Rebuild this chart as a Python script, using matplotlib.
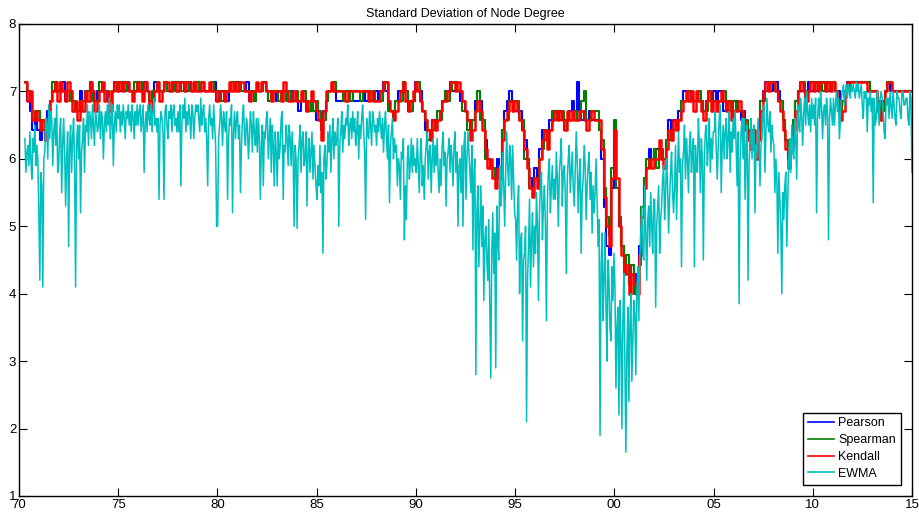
import numpy as np
import pandas as pd
import matplotlib
matplotlib.use('Agg')
import matplotlib.pyplot as plt
import matplotlib.dates as mdates

plt.rcParams['font.family'] = ['Liberation Sans', 'DejaVu Sans']

# correlation based series are quantised in steps of 1/7, stored here in sevenths
# (50 -> 7.14, 49 -> 7.00, 48 -> 6.86 ...), one row per year
pearson_7ths = [
    50, 48, 47, 45, 46, 45,               # 1970
    44, 45, 44, 47, 48, 49, 50, 49,
    49, 50, 48, 49, 49, 48, 47, 47,
    49, 48, 49, 49, 50, 49, 48, 49,
    49, 49, 49, 48, 48, 49, 50, 49,
    49, 50, 49, 50, 49, 49, 49, 50,       # 1975
    49, 49, 50, 49, 48, 48, 50, 49,
    49, 49, 50, 49, 49, 50, 49, 49,
    49, 50, 49, 49, 50, 49, 50, 50,
    49, 49, 49, 49, 49, 49, 50, 48,
    49, 49, 49, 48, 49, 49, 49, 50,       # 1980
    49, 49, 49, 50, 48, 49, 48, 49,
    49, 49, 50, 49, 48, 49, 49, 48,
    49, 48, 49, 49, 48, 49, 48, 48,
    47, 48, 48, 47, 47, 48, 48, 46,
    46, 45, 47, 48, 49, 49, 49, 48,       # 1985
    48, 48, 48, 48, 48, 49, 48, 48,
    48, 48, 49, 48, 48, 48, 48, 49,
    48, 49, 50, 49, 48, 47, 47, 48,
    49, 49, 50, 49, 47, 48, 48, 50,
    49, 49, 47, 45, 44, 45, 46, 46,       # 1990
    47, 47, 48, 49, 49, 50, 49, 49,
    49, 48, 48, 47, 46, 45, 46, 48,
    48, 48, 46, 44, 42, 41, 41, 40,
    42, 41, 45, 47, 48, 49, 48, 47,
    47, 47, 45, 44, 42, 40, 39, 41,       # 1995
    40, 43, 45, 44, 44, 46, 46, 47,
    47, 47, 46, 46, 46, 47, 48, 47,
    50, 47, 46, 47, 46, 47, 46, 46,
    46, 45, 42, 37, 33, 32, 39, 44,
    39, 35, 33, 31, 30, 29, 31, 30,       # 2000
    29, 33, 37, 40, 41, 43, 42, 43,
    43, 43, 42, 42, 44, 46, 45, 46,
    46, 47, 48, 49, 49, 49, 48, 48,
    48, 48, 48, 47, 48, 48, 48, 49,
    48, 49, 49, 47, 48, 47, 47, 48,       # 2005
    48, 47, 46, 47, 45, 45, 44, 44,
    43, 45, 48, 49, 50, 50, 49, 50,
    50, 49, 48, 46, 44, 42, 44, 46,
    48, 49, 49, 49, 49, 50, 49, 49,
    49, 50, 49, 50, 49, 49, 49, 50,       # 2010
    49, 49, 47, 48, 49, 50, 50, 50,
    50, 50, 50, 50, 50, 50, 49, 49,
    49, 48, 47, 48, 49, 50, 49, 49,
    49, 49, 49, 49, 49, 49, 49, 49,
]

spearman_7ths = [
    50, 49, 48, 46, 47, 47,               # 1970
    46, 46, 45, 46, 48, 50, 49, 49,
    50, 49, 49, 49, 48, 48, 47, 47,
    48, 48, 49, 49, 50, 48, 48, 48,
    50, 49, 49, 49, 48, 49, 49, 50,
    50, 49, 50, 49, 49, 49, 50, 49,       # 1975
    50, 49, 49, 49, 48, 49, 49, 50,
    49, 49, 50, 49, 49, 50, 49, 50,
    50, 49, 49, 50, 49, 49, 50, 50,
    49, 50, 49, 49, 49, 50, 49, 49,
    49, 48, 49, 49, 49, 50, 49, 49,       # 1980
    50, 49, 49, 49, 49, 49, 48, 49,
    49, 49, 50, 49, 48, 49, 49, 49,
    48, 49, 49, 48, 49, 48, 48, 49,
    48, 48, 49, 48, 47, 48, 47, 48,
    47, 45, 46, 48, 49, 49, 50, 49,       # 1985
    49, 49, 48, 49, 49, 48, 49, 49,
    49, 48, 49, 49, 49, 48, 49, 48,
    48, 48, 49, 50, 47, 47, 46, 48,
    48, 48, 50, 49, 48, 47, 48, 49,
    50, 48, 47, 46, 44, 45, 45, 46,       # 1990
    47, 46, 48, 49, 48, 49, 50, 50,
    49, 49, 47, 47, 45, 45, 46, 47,
    49, 46, 46, 42, 42, 41, 41, 40,
    40, 41, 45, 46, 46, 48, 48, 48,
    48, 46, 46, 42, 42, 39, 39, 40,       # 1995
    40, 42, 43, 45, 44, 45, 47, 46,
    47, 46, 47, 45, 46, 46, 46, 47,
    46, 46, 48, 49, 46, 46, 47, 47,
    47, 45, 44, 39, 36, 34, 41, 46,
    39, 36, 33, 30, 32, 29, 31, 28,       # 2000
    29, 31, 37, 40, 42, 41, 42, 43,
    41, 43, 43, 42, 44, 44, 45, 45,
    46, 46, 48, 48, 48, 49, 49, 48,
    48, 49, 48, 47, 47, 49, 48, 48,
    48, 48, 48, 49, 47, 48, 47, 48,       # 2005
    47, 47, 47, 46, 46, 44, 44, 45,
    43, 45, 48, 48, 49, 50, 50, 50,
    49, 48, 48, 46, 44, 42, 43, 46,
    48, 49, 50, 50, 48, 49, 50, 50,
    50, 49, 50, 49, 50, 50, 49, 50,       # 2010
    49, 48, 47, 48, 49, 49, 50, 50,
    50, 50, 50, 50, 50, 50, 49, 49,
    49, 48, 47, 47, 49, 50, 50, 49,
    49, 49, 49, 49, 49, 49, 49, 49,
]

kendall_7ths = [
    50, 48, 49, 46, 47, 46,               # 1970
    45, 46, 44, 46, 48, 49, 50, 48,
    50, 49, 48, 50, 49, 47, 48, 46,
    48, 47, 49, 48, 50, 49, 47, 48,
    49, 50, 48, 49, 47, 49, 50, 49,
    50, 49, 50, 50, 49, 48, 49, 50,       # 1975
    49, 48, 50, 49, 47, 48, 49, 50,
    48, 49, 50, 50, 49, 50, 50, 49,
    50, 50, 49, 50, 50, 49, 50, 49,
    49, 50, 49, 49, 50, 49, 49, 48,
    49, 49, 48, 49, 50, 49, 50, 49,       # 1980
    50, 50, 49, 49, 48, 49, 49, 50,
    49, 50, 50, 49, 49, 48, 49, 49,
    49, 48, 50, 49, 48, 48, 49, 48,
    48, 49, 48, 47, 48, 49, 48, 47,
    46, 44, 47, 49, 49, 50, 49, 49,       # 1985
    49, 49, 49, 48, 49, 49, 49, 49,
    49, 49, 49, 49, 48, 49, 48, 48,
    48, 49, 50, 50, 48, 47, 46, 47,
    48, 49, 50, 48, 47, 48, 49, 50,
    49, 48, 47, 46, 45, 44, 46, 45,       # 1990
    46, 47, 48, 48, 49, 50, 50, 49,
    50, 49, 48, 47, 46, 44, 45, 47,
    48, 47, 45, 43, 41, 42, 40, 39,
    41, 40, 44, 46, 47, 48, 47, 48,
    47, 46, 45, 43, 41, 39, 38, 40,       # 1995
    39, 42, 44, 45, 43, 45, 46, 47,
    46, 47, 46, 45, 47, 46, 47, 46,
    46, 47, 47, 46, 45, 46, 47, 46,
    46, 46, 43, 38, 35, 33, 40, 45,
    40, 35, 32, 30, 31, 28, 30, 29,       # 2000
    28, 32, 36, 39, 41, 42, 41, 42,
    42, 44, 42, 41, 43, 45, 44, 46,
    45, 46, 47, 48, 49, 48, 49, 47,
    49, 48, 47, 46, 48, 49, 47, 48,
    47, 48, 49, 48, 47, 48, 46, 47,       # 2005
    47, 48, 47, 46, 45, 44, 43, 45,
    42, 44, 47, 49, 50, 49, 50, 50,
    49, 48, 47, 45, 43, 41, 43, 45,
    47, 49, 50, 49, 48, 49, 50, 49,
    50, 49, 50, 50, 49, 50, 49, 50,       # 2010
    49, 48, 46, 47, 49, 50, 50, 50,
    50, 50, 50, 50, 50, 49, 49, 49,
    49, 47, 46, 48, 49, 50, 50, 49,
    49, 49, 49, 49, 49, 49, 49, 49,
]

# EWMA estimate, 20 readings per year (first row starts in spring 1970)
ewma = [
    6.3, 5.8, 6.1, 6.2, 5.9, 6.4, 6.0, 5.7, 6.3, 6.1, 6.5, 5.9, 6.2, 6.0,
    5.2, 4.2, 5.8, 5.6, 4.1, 6.0, 6.1, 6.6, 6.5, 6.0, 6.8, 6.3, 6.7, 6.6, 5.9, 6.4, 6.6, 6.2, 6.8, 5.8,
    5.9, 6.4, 6.6, 5.5, 6.2, 6.6, 6.1, 5.3, 6.0, 6.4, 4.7, 6.2, 6.5, 5.8, 6.3, 6.6, 5.9, 4.1, 6.2, 6.5,
    6.0, 6.5, 5.2, 6.1, 6.3, 6.6, 5.8, 6.5, 6.4, 6.8, 6.2, 6.7, 6.6, 6.3, 6.8, 6.5, 6.2, 6.7, 6.6, 6.4,
    6.5, 6.8, 6.3, 6.7, 6.6, 6.0, 6.5, 6.7, 6.4, 6.8, 6.5, 6.9, 6.3, 6.6, 6.8, 5.9, 6.5, 6.7, 6.4, 6.8,
    6.6, 6.8, 6.4, 6.7, 6.5, 6.8, 6.6, 6.3, 6.7, 6.6, 6.8, 6.5, 6.7, 6.4, 6.8, 6.6, 6.3, 6.7, 6.5, 6.8,  # 1975
    6.5, 6.7, 6.8, 6.4, 6.6, 6.8, 5.8, 6.5, 6.7, 6.4, 6.8, 6.6, 6.5, 6.8, 6.4, 6.7, 6.9, 6.5, 6.6, 6.4,
    6.6, 5.4, 6.5, 6.7, 6.6, 6.4, 5.4, 6.7, 6.8, 6.5, 6.3, 6.7, 6.6, 6.8, 6.4, 6.7, 6.8, 6.5, 6.6, 6.4,
    6.7, 6.4, 6.8, 5.6, 6.5, 6.8, 6.6, 6.9, 6.4, 6.7, 6.5, 6.8, 6.6, 6.3, 6.8, 6.7, 6.3, 6.6, 6.8, 6.7,
    6.8, 6.6, 6.4, 6.9, 6.5, 6.7, 6.8, 6.4, 6.6, 6.3, 5.6, 6.6, 6.8, 6.5, 6.6, 6.3, 6.8, 6.5, 6.2, 5.0,
    5.0, 6.3, 6.5, 6.8, 6.6, 6.2, 6.7, 6.5, 6.4, 6.7, 5.4, 6.3, 6.6, 6.5, 6.8, 5.2, 6.4, 6.7, 6.3, 6.6,  # 1980
    6.7, 6.3, 6.5, 5.5, 6.2, 6.6, 6.8, 6.4, 6.2, 6.6, 6.5, 6.0, 6.3, 6.7, 6.5, 6.1, 6.7, 6.4, 6.2, 6.6,
    6.1, 6.6, 6.3, 5.4, 6.2, 6.5, 5.6, 6.4, 6.3, 6.6, 6.7, 6.0, 6.3, 6.6, 5.8, 6.5, 6.2, 5.6, 6.4, 6.1,
    5.6, 6.4, 6.0, 6.2, 6.6, 6.7, 5.4, 6.2, 6.1, 6.5, 6.3, 5.9, 6.5, 6.3, 5.9, 6.4, 6.1, 5.0, 6.2, 6.0,
    4.97, 6.0, 6.2, 6.5, 5.8, 6.3, 6.4, 5.9, 6.0, 6.4, 5.3, 6.1, 6.3, 5.8, 6.1, 6.4, 5.7, 6.2, 5.9, 5.6,
    5.4, 5.9, 5.6, 6.2, 5.5, 5.8, 4.6, 6.0, 6.2, 5.7, 5.9, 6.4, 6.1, 6.5, 5.8, 6.3, 6.6, 6.0, 6.4, 6.2,  # 1985
    6.3, 6.6, 5.0, 6.2, 6.4, 6.7, 6.1, 6.5, 6.3, 6.6, 6.5, 6.8, 6.2, 6.5, 6.6, 6.3, 6.7, 6.4, 6.6, 6.2,
    6.4, 6.7, 6.0, 6.5, 6.3, 6.6, 6.8, 6.4, 6.1, 5.1, 6.6, 6.4, 6.3, 6.7, 6.5, 6.2, 6.7, 6.6, 6.4, 6.5,
    6.2, 6.6, 6.4, 6.7, 6.5, 6.3, 6.6, 6.1, 6.5, 6.7, 6.3, 6.0, 6.5, 5.35, 6.2, 6.4, 6.6, 6.0, 6.3, 6.1,
    6.2, 5.6, 6.0, 5.9, 5.4, 6.1, 6.0, 6.3, 4.8, 5.6, 5.1, 6.0, 6.2, 5.7, 5.9, 6.3, 5.8, 6.2, 5.9, 6.0,
    5.8, 6.3, 5.9, 5.5, 6.1, 6.3, 5.6, 5.9, 5.4, 6.0, 6.2, 6.4, 5.7, 6.1, 6.2, 5.5, 6.0, 6.3, 5.8, 6.2,  # 1990
    5.9, 6.3, 5.8, 5.5, 6.0, 5.6, 6.2, 6.4, 5.9, 6.1, 5.3, 6.0, 6.1, 6.3, 5.8, 6.2, 6.0, 5.6, 6.2, 6.4,
    5.8, 6.1, 5.0, 5.9, 6.0, 5.5, 6.2, 5.0, 6.2, 6.4, 5.4, 6.0, 6.4, 6.1, 5.8, 5.5, 6.2, 4.65, 5.8, 6.0,
    2.8, 5.2, 5.6, 4.4, 5.0, 5.6, 4.7, 5.3, 3.9, 4.8, 5.0, 4.5, 4.2, 5.1, 3.8, 2.75, 4.6, 5.2, 4.3, 4.9,
    2.9, 5.3, 4.8, 4.5, 5.9, 5.3, 5.5, 6.1, 5.6, 5.0, 5.8, 6.4, 5.9, 5.6, 6.2, 6.0, 5.4, 6.2, 5.7, 5.2,
    5.1, 4.5, 5.3, 5.6, 4.0, 4.8, 4.9, 3.3, 4.5, 4.6, 5.0, 2.1, 4.2, 4.7, 5.4, 4.1, 4.8, 5.2, 4.4, 5.0,  # 1995
    4.6, 5.5, 5.0, 3.9, 5.2, 5.6, 5.8, 4.8, 5.3, 5.6, 5.0, 3.6, 5.4, 5.8, 6.0, 5.2, 5.6, 5.9, 5.4, 5.7,
    5.4, 6.1, 5.7, 5.0, 5.8, 6.0, 6.3, 5.3, 5.8, 5.9, 5.5, 4.3, 5.7, 6.0, 6.2, 5.5, 5.8, 6.1, 5.6, 5.3,
    5.8, 6.4, 6.0, 5.2, 5.7, 6.0, 4.6, 5.5, 5.7, 6.2, 5.9, 5.1, 5.6, 5.9, 6.1, 5.4, 5.8, 4.9, 5.6, 5.2,
    5.5, 6.0, 5.4, 4.7, 5.1, 1.9, 4.4, 4.9, 3.6, 4.2, 4.9, 3.8, 3.0, 4.5, 4.2, 3.5, 3.3, 4.4, 3.9, 4.6,
    4.1, 2.6, 3.5, 3.8, 2.2, 3.9, 3.4, 2.0, 3.6, 4.3, 3.0, 1.65, 3.1, 3.8, 2.4, 3.5, 4.0, 2.7, 3.3, 3.9,  # 2000
    3.7, 2.8, 4.0, 4.4, 3.6, 4.5, 4.9, 5.3, 4.6, 4.5, 5.6, 4.9, 4.2, 5.1, 5.3, 4.7, 5.5, 5.0, 4.6, 5.4,
    5.4, 3.8, 5.0, 5.3, 5.6, 4.6, 5.1, 5.3, 5.7, 5.9, 5.1, 5.5, 6.0, 5.6, 4.9, 5.4, 5.8, 6.1, 5.5, 5.2,
    5.6, 6.2, 5.1, 5.8, 6.4, 5.8, 6.0, 4.4, 5.9, 6.1, 6.5, 5.7, 6.3, 6.0, 5.5, 6.2, 6.4, 5.8, 6.1, 6.3,
    4.4, 6.2, 5.9, 5.8, 6.6, 6.2, 5.5, 6.3, 6.0, 4.5, 6.0, 6.4, 6.5, 5.9, 6.2, 6.6, 5.8, 6.3, 6.0, 6.4,
    6.4, 6.7, 6.1, 5.7, 6.2, 6.6, 6.8, 5.5, 6.2, 6.5, 6.0, 6.4, 6.6, 6.0, 6.3, 6.7, 5.8, 6.4, 6.1, 6.6,  # 2005
    6.3, 6.7, 6.2, 5.6, 6.4, 3.85, 6.0, 6.4, 6.6, 6.0, 6.6, 5.4, 6.2, 6.5, 4.2, 5.9, 6.3, 6.6, 6.0, 6.4,
    6.5, 5.2, 6.2, 6.1, 6.6, 6.3, 5.6, 6.2, 6.3, 6.7, 6.8, 5.8, 6.4, 6.9, 6.5, 6.4, 6.7, 6.1, 6.5, 6.3,
    6.2, 5.5, 6.0, 5.7, 4.6, 5.8, 5.4, 5.0, 4.0, 5.5, 5.1, 5.6, 5.8, 4.7, 5.4, 6.0, 6.3, 5.8, 6.5, 6.1,
    6.0, 6.6, 6.3, 5.7, 6.8, 6.5, 6.4, 6.9, 6.6, 6.2, 6.7, 6.9, 6.5, 7.0, 6.7, 6.5, 6.8, 6.4, 6.9, 6.6,
    6.8, 6.5, 6.9, 5.2, 6.6, 6.9, 6.6, 7.0, 6.8, 6.3, 6.7, 6.8, 6.5, 6.9, 6.7, 4.8, 6.6, 6.9, 6.7, 6.5,  # 2010
    6.9, 6.5, 6.8, 7.0, 6.7, 6.9, 6.3, 6.6, 6.9, 7.0, 7.1, 6.8, 7.0, 7.1, 6.9, 7.1, 7.0, 6.9, 7.1, 7.0,
    7.1, 7.0, 6.9, 7.14, 7.0, 7.1, 6.9, 7.0, 7.1, 6.8, 6.6, 7.0, 6.9, 7.0, 6.4, 6.9, 6.8, 7.0, 6.7, 6.9,
    5.35, 6.9, 6.5, 6.6, 7.0, 6.8, 6.5, 6.9, 7.0, 6.9, 6.7, 6.4, 6.3, 6.9, 6.8, 6.9, 6.6, 7.0, 6.8, 6.6,
    7.0, 6.8, 6.6, 6.5, 7.0, 6.9, 6.9, 6.7, 6.6, 7.0, 7.0, 6.8, 6.8, 6.9, 6.9, 6.6, 6.5, 7.0, 6.9, 5.8,
]

labels = ['Pearson', 'Spearman', 'Kendall', 'EWMA']
colors = ['#0000ff', '#008000', '#ff0000', '#00bfbf']
widths = [1.5, 1.5, 1.8, 1.1]

start, end = '1970-04-20', '2014-12-31'


def dates_for(values):
    return pd.date_range(start, end, periods=len(values))


fig = plt.figure(figsize=(9.19, 5.17), dpi=100)
ax = fig.add_axes([19/919, 21/517, 893/919, 472/517])

for vals, lab, col, lw in zip([pearson_7ths, spearman_7ths, kendall_7ths],
                              labels[:3], colors[:3], widths[:3]):
    ax.plot(dates_for(vals), np.array(vals) / 7.0, color=col, lw=lw,
            drawstyle='steps-post', label=lab)
ax.plot(dates_for(ewma), ewma, color=colors[3], lw=widths[3], label=labels[3])

ax.set_xlim(pd.Timestamp('1970-01-01'), pd.Timestamp('2015-01-01'))
ax.set_ylim(1, 8)
ax.xaxis.set_major_locator(mdates.YearLocator(5))
ax.xaxis.set_major_formatter(mdates.DateFormatter('%y'))
ax.set_yticks(range(1, 9))
ax.tick_params(direction='in', top=True, right=True, length=6, width=0.8,
               labelsize=9.5, pad=2)
for s in ax.spines.values():
    s.set_linewidth(1.0)

ax.set_title('Standard Deviation of Node Degree', fontsize=9, pad=5)

leg = ax.legend(loc='lower right', fancybox=False, edgecolor='k', framealpha=1,
                fontsize=9, handlelength=2.1, borderaxespad=0.9,
                labelspacing=0.38, borderpad=0.4, handletextpad=0.3)
leg.get_frame().set_linewidth(1.0)
for line in leg.get_lines():
    line.set_linewidth(1.2)

fig.savefig('out.png', dpi=100)
